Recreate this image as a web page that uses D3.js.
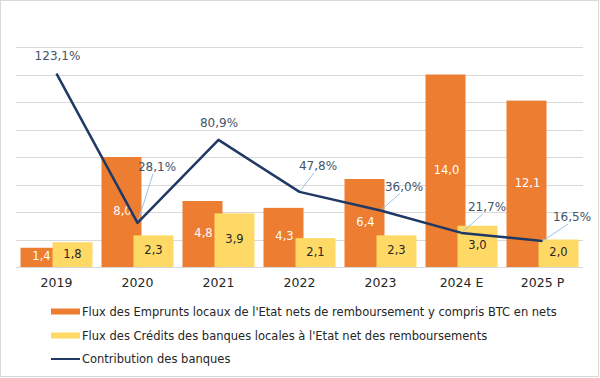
<!DOCTYPE html>
<html>
<head>
<meta charset="utf-8">
<script src="https://cdn.jsdelivr.net/npm/d3@7"></script>
<style>
  html, body { margin: 0; padding: 0; background: #fff; }
  svg { display: block; }
  text { font-family: "DejaVu Sans", sans-serif; }
</style>
</head>
<body>
<svg id="chart" width="600" height="378"></svg>
<script>
// ---- Data ----
const categories = ["2019", "2020", "2021", "2022", "2023", "2024 E", "2025 P"];
const empruntsLocaux = [1.4, 8.0, 4.8, 4.3, 6.4, 14.0, 12.1];
const creditsBanques = [1.8, 2.3, 3.9, 2.1, 2.3, 3.0, 2.0];
const contributionBanques = [123.1, 28.1, 80.9, 47.8, 36.0, 21.7, 16.5];
const seriesNames = [
  "Flux des Emprunts locaux de l'Etat nets de remboursement y compris BTC en nets",
  "Flux des Crédits des banques locales à l'Etat net des remboursements",
  "Contribution des banques"
];
const leftTicks = [0, 2, 4, 6, 8, 10, 12, 14, 16];

// label offsets for line data labels (layout only)
const lineLabelOffsets = [
  { dx: 1, dy: -18, leader: false },
  { dx: 19.5, dy: -56, leader: true },
  { dx: 0.5, dy: -17, leader: false },
  { dx: 18.5, dy: -26, leader: true },
  { dx: 23.5, dy: -24, leader: true },
  { dx: 25.5, dy: -26, leader: true },
  { dx: 29.5, dy: -24, leader: true }
];

const fmt = v => v.toFixed(1).replace(".", ",");
const colors = { orange: "#ED7D31", yellow: "#FFD966", line: "#1F3864", label: "#44546A", leader: "#9DC3E6", grid: "#D9D9D9", text: "#262626" };

const svg = d3.select("#chart");
svg.append("rect").attr("x", 0.5).attr("y", 0.5).attr("width", 598).attr("height", 376)
  .attr("fill", "#fff").attr("stroke", "#D9D9D9");

const plot = { left: 16, right: 583, top: 47, bottom: 267 };

const x = d3.scaleBand().domain(categories).range([plot.left, plot.right])
  .paddingInner(9 / 81).paddingOuter(4.5 / 81);
const y = d3.scaleLinear().domain([0, 16]).range([plot.bottom, plot.top]);
const y2 = d3.scaleLinear().domain([0, 140]).range([plot.bottom, plot.top]);

const bw = x.bandwidth();
const barW = bw * 40 / 72;
const yellowOff = bw * 32 / 72;

// gridlines
svg.append("g").selectAll("line").data(leftTicks).join("line")
  .attr("x1", plot.left).attr("x2", plot.right)
  .attr("y1", d => Math.round(y(d)) + 0.5).attr("y2", d => Math.round(y(d)) + 0.5)
  .attr("stroke", colors.grid).attr("stroke-width", 1);

// category axis labels
const xAxis = d3.axisBottom(x).tickSize(0).tickPadding(0);
const gx = svg.append("g").attr("transform", `translate(0,${plot.bottom})`).call(xAxis);
gx.select(".domain").remove();
gx.selectAll("text").attr("y", 16).attr("dy", "0.35em")
  .style("font-family", "DejaVu Sans").style("font-size", "12.5px").attr("fill", colors.text);

// orange bars
svg.append("g").selectAll("rect").data(empruntsLocaux).join("rect")
  .attr("x", (d, i) => x(categories[i]))
  .attr("y", d => y(d)).attr("width", barW).attr("height", d => y(0) - y(d))
  .attr("fill", colors.orange);

// yellow bars
svg.append("g").selectAll("rect").data(creditsBanques).join("rect")
  .attr("x", (d, i) => x(categories[i]) + yellowOff)
  .attr("y", d => y(d)).attr("width", barW).attr("height", d => y(0) - y(d))
  .attr("fill", colors.yellow);

// orange labels
svg.append("g").selectAll("text").data(empruntsLocaux).join("text")
  .attr("x", (d, i) => x(categories[i]) + barW / 2 + 1)
  .attr("y", d => (y(d) + y(0)) / 2 - 1).attr("dy", "0.35em")
  .attr("text-anchor", "middle").attr("fill", "#fff").style("font-size", "11.5px")
  .text(fmt);

// yellow labels
svg.append("g").selectAll("text").data(creditsBanques).join("text")
  .attr("x", (d, i) => x(categories[i]) + yellowOff + barW / 2)
  .attr("y", d => (y(d) + y(0)) / 2 - 1).attr("dy", "0.35em")
  .attr("text-anchor", "middle").attr("fill", colors.text).style("font-size", "11.5px")
  .text(fmt);

// line
const pts = contributionBanques.map((v, i) => ({
  v, i,
  px: x(categories[i]) + bw / 2,
  py: y2(v),
  lx: x(categories[i]) + bw / 2 + lineLabelOffsets[i].dx,
  ly: y2(v) + lineLabelOffsets[i].dy,
  leader: lineLabelOffsets[i].leader
}));

// leader lines
svg.append("g").selectAll("line").data(pts.filter(p => p.leader)).join("line")
  .attr("x1", p => p.px).attr("y1", p => p.py)
  .attr("x2", p => p.lx - 4).attr("y2", p => p.ly + 7)
  .attr("stroke", colors.leader).attr("stroke-width", 1);

const line = d3.line().x(p => p.px).y(p => p.py);
svg.append("path").datum(pts).attr("d", line)
  .attr("fill", "none").attr("stroke", colors.line).attr("stroke-width", 2.5)
  .attr("stroke-linejoin", "round");

svg.append("g").selectAll("text").data(pts).join("text")
  .attr("x", p => p.lx).attr("y", p => p.ly).attr("dy", "0.35em")
  .attr("text-anchor", "middle").attr("fill", colors.label).style("font-size", "12px")
  .text(p => fmt(p.v) + "%");

// legend
const legend = svg.append("g");
const rows = [311.5, 335.5, 359];
legend.append("rect").attr("x", 51).attr("y", rows[0] - 3).attr("width", 29).attr("height", 6).attr("fill", colors.orange);
legend.append("rect").attr("x", 51).attr("y", rows[1] - 3).attr("width", 29).attr("height", 6).attr("fill", colors.yellow);
legend.append("line").attr("x1", 51).attr("x2", 80).attr("y1", rows[2]).attr("y2", rows[2])
  .attr("stroke", colors.line).attr("stroke-width", 2);
legend.selectAll("text").data(seriesNames).join("text")
  .attr("x", 82).attr("y", (d, i) => rows[i]).attr("dy", "0.35em")
  .attr("fill", colors.text).style("font-size", "11.5px")
  .text(d => d);
</script>
</body>
</html>
